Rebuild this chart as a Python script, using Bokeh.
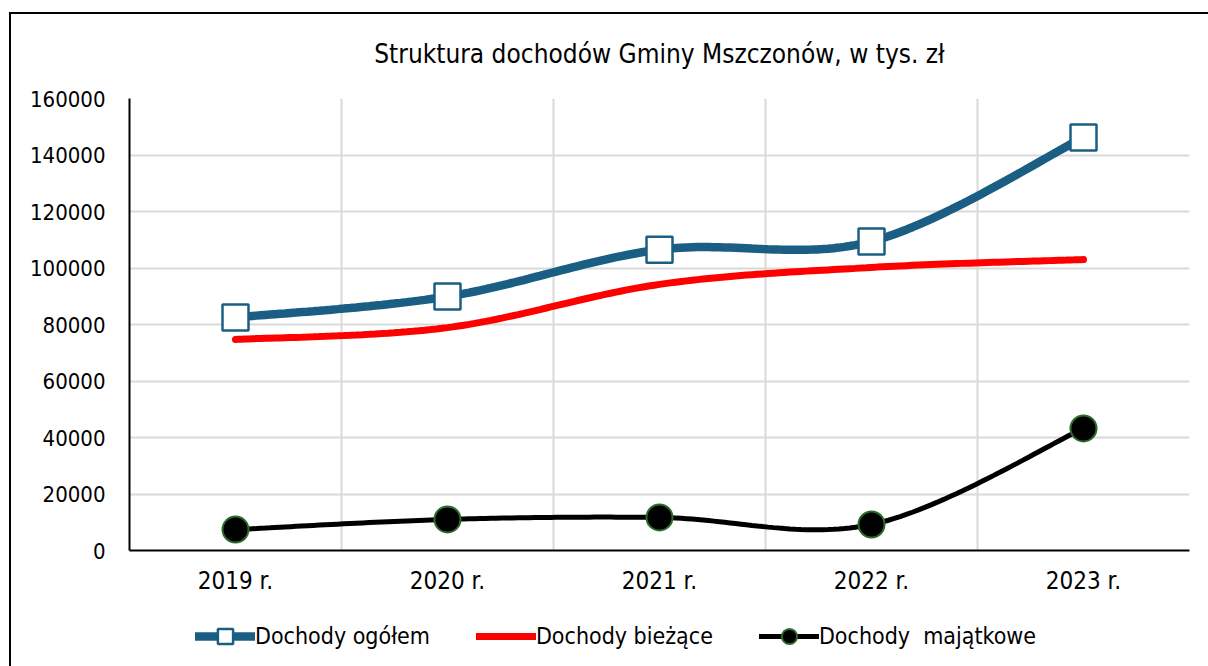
import numpy as np
from bokeh.plotting import figure
from bokeh.layouts import column
from bokeh.models import FixedTicker, Range1d, Legend, LegendItem, BasicTickFormatter
from bokeh.embed import file_html
from bokeh.resources import INLINE

categories = ["2019 r.", "2020 r.", "2021 r.", "2022 r.", "2023 r."]
ogolem = [82500, 89900, 106500, 109400, 146200]
biezace = [74700, 78900, 94200, 100200, 103000]
majatkowe = [7400, 11000, 11700, 9200, 43200]
yticks = [0, 20000, 40000, 60000, 80000, 100000, 120000, 140000, 160000]
series_names = ["Dochody ogółem", "Dochody bieżące", "Dochody  majątkowe"]

xpos = [i + 0.5 for i in range(len(categories))]


def smooth(xs, ys, n=40):
    xs = np.asarray(xs, float)
    ys = np.asarray(ys, float)
    px = np.concatenate([[xs[0]], xs, [xs[-1]]])
    py = np.concatenate([[ys[0]], ys, [ys[-1]]])
    ox, oy = [], []
    t = np.linspace(0, 1, n)
    for i in range(1, len(px) - 2):
        p0x, p1x, p2x, p3x = px[i - 1], px[i], px[i + 1], px[i + 2]
        p0y, p1y, p2y, p3y = py[i - 1], py[i], py[i + 1], py[i + 2]
        c1x = p1x + (p2x - p0x) / 6
        c1y = p1y + (p2y - p0y) / 6
        c2x = p2x - (p3x - p1x) / 6
        c2y = p2y - (p3y - p1y) / 6
        bx = (1 - t) ** 3 * p1x + 3 * (1 - t) ** 2 * t * c1x + 3 * (1 - t) * t ** 2 * c2x + t ** 3 * p2x
        by = (1 - t) ** 3 * p1y + 3 * (1 - t) ** 2 * t * c1y + 3 * (1 - t) * t ** 2 * c2y + t ** 3 * p2y
        ox.extend(bx.tolist())
        oy.extend(by.tolist())
    return ox, oy


FONT = "DejaVu Sans Condensed"
BLUE = "#1A5F83"
RED = "#FF0000"
GREEN_EDGE = "#2A6B2A"

W = 1197

p = figure(width=W, height=596, output_backend="svg", toolbar_location=None,
           x_range=Range1d(0, 5), y_range=Range1d(0, 160000),
           min_border_left=118, min_border_right=19, min_border_top=84, min_border_bottom=60)

p.title.text = "Struktura dochodów Gminy Mszczonów, w tys. zł\n"
p.title.align = "center"
p.title.text_font = FONT
p.title.text_font_size = "26px"
p.title.text_font_style = "normal"
p.title.text_color = "#000000"
p.title.standoff = 0

p.outline_line_color = None
p.background_fill_color = "white"
p.border_fill_color = "white"

# axes
p.xaxis.ticker = FixedTicker(ticks=xpos)
p.xaxis.major_label_overrides = {x: c for x, c in zip(xpos, categories)}
p.yaxis.ticker = FixedTicker(ticks=yticks)
p.yaxis.formatter = BasicTickFormatter(use_scientific=False)
for ax in (p.xaxis, p.yaxis):
    ax.major_tick_line_color = None
    ax.minor_tick_line_color = None
    ax.major_tick_out = 0
    ax.major_tick_in = 0
    ax.major_label_text_font = FONT
    ax.major_label_text_color = "#000000"
    ax.axis_line_color = "#000000"
    ax.axis_line_width = 2
p.yaxis.major_label_standoff = 24
p.yaxis.major_label_text_font_size = "22px"
p.xaxis.major_label_text_font_size = "24px"
p.xaxis.major_label_standoff = 16

p.xgrid.ticker = FixedTicker(ticks=[1, 2, 3, 4, 5])
p.xgrid.grid_line_color = "#D9D9D9"
p.xgrid.grid_line_width = 2
p.ygrid.grid_line_color = "#D9D9D9"
p.ygrid.grid_line_width = 2

# series
sx, sy = smooth(xpos, ogolem)
p.line(sx, sy, line_color=BLUE, line_width=8.5, line_cap="round")
p.scatter(xpos, ogolem, marker="square", size=26, fill_color="white",
          line_color=BLUE, line_width=2.5)

sx, sy = smooth(xpos, biezace)
p.line(sx, sy, line_color=RED, line_width=7, line_cap="round")

sx, sy = smooth(xpos, majatkowe)
p.line(sx, sy, line_color="#000000", line_width=5, line_cap="round")
p.scatter(xpos, majatkowe, marker="circle", size=26, fill_color="#000000",
          line_color=GREEN_EDGE, line_width=2)

# legend strip (separate figure so it is not clipped by the plot frame);
# its sample renderers sit outside the strip's visible range
lg = figure(width=W, height=56, output_backend="svg", toolbar_location=None,
            x_range=Range1d(0, 1), y_range=Range1d(0, 1),
            x_axis_location=None, y_axis_location=None,
            min_border_left=0, min_border_right=0, min_border_top=0, min_border_bottom=0)
lg.outline_line_color = None
lg.background_fill_color = "white"
lg.border_fill_color = "white"
lg.grid.visible = False

off = [-5, -4]
d1 = lg.line(off, off, line_color=BLUE, line_width=8.5, line_cap="round")
d1m = lg.scatter(off, off, marker="square", size=26, fill_color="white",
                 line_color=BLUE, line_width=2.5)
d2 = lg.line(off, off, line_color=RED, line_width=7, line_cap="round")
d3 = lg.line(off, off, line_color="#000000", line_width=5, line_cap="round")
d3m = lg.scatter(off, off, marker="circle", size=26, fill_color="#000000",
                 line_color=GREEN_EDGE, line_width=2)

legend = Legend(items=[
    LegendItem(label=series_names[0], renderers=[d1, d1m]),
    LegendItem(label=series_names[1], renderers=[d2]),
    LegendItem(label=series_names[2], renderers=[d3, d3m]),
], orientation="horizontal", location=(66, 11))
legend.label_text_font = FONT
legend.label_text_font_size = "23px"
legend.label_text_color = "#000000"
legend.glyph_width = 60
legend.glyph_height = 38
legend.label_standoff = 0
legend.spacing = 46
legend.border_line_color = None
legend.background_fill_alpha = 0
legend.padding = 0
legend.margin = 0
lg.add_layout(legend, "center")

layout = column(p, lg, spacing=0)
layout.styles = {"border-left": "2px solid black", "border-top": "2px solid black",
                 "margin-top": "12px", "margin-left": "9px"}

open("out.html", "w").write(file_html(layout, INLINE))
